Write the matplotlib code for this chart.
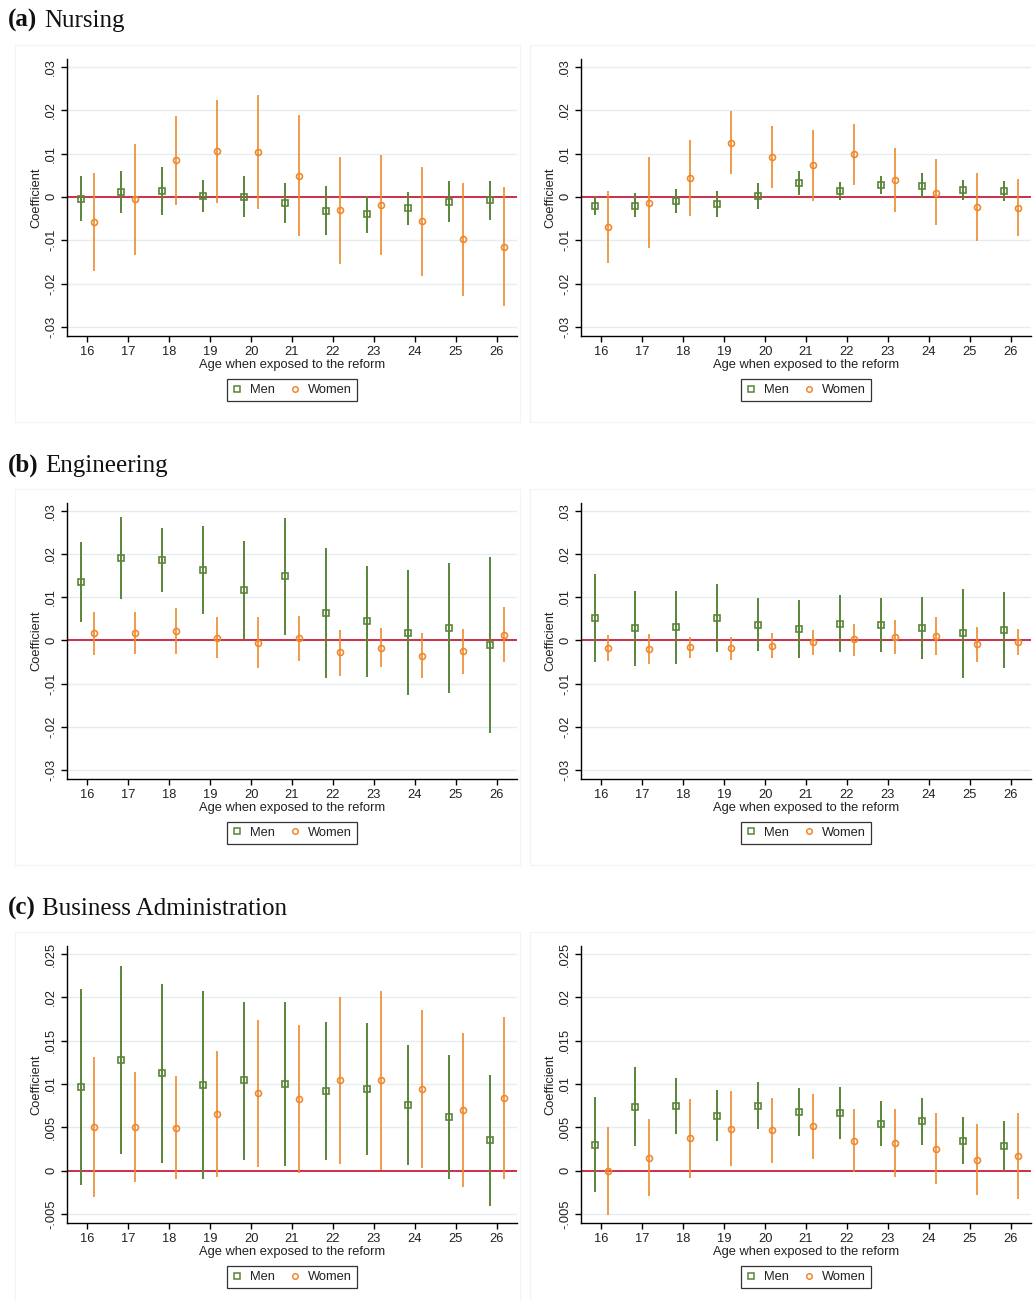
import numpy as np
import matplotlib
matplotlib.use('Agg')
import matplotlib.pyplot as plt
from matplotlib.patches import Rectangle
from matplotlib.lines import Line2D

plt.rcParams['font.family'] = ['Liberation Sans', 'DejaVu Sans']
plt.rcParams['axes.linewidth'] = 1.0

ages = np.arange(16, 27)

# ---- (a) Nursing, left
nurs1_men_b = [-0.0005, 0.0012, 0.0014, 0.0002, 0.0000, -0.0014, -0.0032, -0.0040, -0.0026, -0.0012, -0.0008]
nurs1_men_hi = [0.0047, 0.0059, 0.0068, 0.0038, 0.0047, 0.0032, 0.0024, 0.0003, 0.0012, 0.0036, 0.0037]
nurs1_men_lo = [-0.0056, -0.0038, -0.0042, -0.0035, -0.0046, -0.0061, -0.0089, -0.0083, -0.0064, -0.0059, -0.0053]
nurs1_wom_b = [-0.0058, -0.0006, 0.0085, 0.0105, 0.0104, 0.0049, -0.0031, -0.0018, -0.0056, -0.0098, -0.0115]
nurs1_wom_hi = [0.0054, 0.0121, 0.0187, 0.0224, 0.0236, 0.0188, 0.0093, 0.0097, 0.0068, 0.0032, 0.0022]
nurs1_wom_lo = [-0.0172, -0.0135, -0.0018, -0.0014, -0.0029, -0.0090, -0.0155, -0.0135, -0.0182, -0.0228, -0.0251]

# ---- (a) Nursing, right
nurs2_men_b = [-0.0020, -0.0020, -0.0010, -0.0017, 0.0002, 0.0032, 0.0014, 0.0027, 0.0026, 0.0016, 0.0014]
nurs2_men_hi = [0.0000, 0.0008, 0.0018, 0.0013, 0.0032, 0.0059, 0.0035, 0.0048, 0.0056, 0.0039, 0.0037]
nurs2_men_lo = [-0.0042, -0.0047, -0.0038, -0.0047, -0.0028, 0.0004, -0.0008, 0.0006, -0.0003, -0.0008, -0.0009]
nurs2_wom_b = [-0.0069, -0.0014, 0.0044, 0.0125, 0.0092, 0.0073, 0.0098, 0.0040, 0.0010, -0.0023, -0.0025]
nurs2_wom_hi = [0.0014, 0.0091, 0.0132, 0.0198, 0.0164, 0.0155, 0.0169, 0.0112, 0.0087, 0.0054, 0.0042]
nurs2_wom_lo = [-0.0153, -0.0119, -0.0045, 0.0052, 0.0021, -0.0009, 0.0027, -0.0034, -0.0066, -0.0101, -0.0091]

# ---- (b) Engineering, left
eng1_men_b = [0.0135, 0.0191, 0.0187, 0.0163, 0.0117, 0.0148, 0.0063, 0.0045, 0.0018, 0.0029, -0.0011]
eng1_men_hi = [0.0228, 0.0285, 0.0261, 0.0264, 0.0231, 0.0284, 0.0214, 0.0173, 0.0163, 0.0178, 0.0193]
eng1_men_lo = [0.0042, 0.0096, 0.0112, 0.0062, 0.0002, 0.0012, -0.0088, -0.0084, -0.0127, -0.0121, -0.0215]
eng1_wom_b = [0.0016, 0.0017, 0.0022, 0.0006, -0.0005, 0.0005, -0.0028, -0.0017, -0.0036, -0.0025, 0.0013]
eng1_wom_hi = [0.0066, 0.0065, 0.0076, 0.0053, 0.0053, 0.0057, 0.0025, 0.0028, 0.0016, 0.0026, 0.0077]
eng1_wom_lo = [-0.0035, -0.0031, -0.0032, -0.0042, -0.0065, -0.0048, -0.0082, -0.0062, -0.0088, -0.0078, -0.0051]

# ---- (b) Engineering, right
eng2_men_b = [0.0052, 0.0028, 0.0031, 0.0052, 0.0036, 0.0027, 0.0038, 0.0035, 0.0028, 0.0016, 0.0024]
eng2_men_hi = [0.0154, 0.0115, 0.0115, 0.0131, 0.0098, 0.0093, 0.0104, 0.0097, 0.0100, 0.0118, 0.0112]
eng2_men_lo = [-0.0051, -0.0059, -0.0055, -0.0028, -0.0025, -0.0041, -0.0027, -0.0027, -0.0044, -0.0087, -0.0065]
eng2_wom_b = [-0.0018, -0.0020, -0.0016, -0.0018, -0.0012, -0.0003, 0.0002, 0.0008, 0.0011, -0.0008, -0.0004]
eng2_wom_hi = [0.0012, 0.0014, 0.0007, 0.0008, 0.0016, 0.0025, 0.0039, 0.0048, 0.0055, 0.0032, 0.0026]
eng2_wom_lo = [-0.0048, -0.0054, -0.0041, -0.0045, -0.0042, -0.0034, -0.0037, -0.0032, -0.0034, -0.0049, -0.0035]

# ---- (c) Business Administration, left
bus1_men_b = [0.00969, 0.01277, 0.01123, 0.00988, 0.01042, 0.01004, 0.00923, 0.00942, 0.00758, 0.00623, 0.00354]
bus1_men_hi = [0.0210, 0.0236, 0.0215, 0.0207, 0.0195, 0.0195, 0.01715, 0.0170, 0.01454, 0.01338, 0.01104]
bus1_men_lo = [-0.00165, 0.00188, 0.00085, -0.0010, 0.00127, 0.00058, 0.00127, 0.00185, 0.00062, -0.00092, -0.00404]
bus1_wom_b = [0.00508, 0.00504, 0.00496, 0.00658, 0.00896, 0.00823, 0.01042, 0.01042, 0.00942, 0.0070, 0.00842]
bus1_wom_hi = [0.01315, 0.01138, 0.01088, 0.01385, 0.01742, 0.01677, 0.02008, 0.0207, 0.0185, 0.01588, 0.01773]
bus1_wom_lo = [-0.00304, -0.00131, -0.00096, -0.00073, 0.00046, -0.00031, 0.00077, 0.00012, 0.00031, -0.00188, -0.00092]

# ---- (c) Business Administration, right
bus2_men_b = [0.00301, 0.00737, 0.00749, 0.00633, 0.00749, 0.00676, 0.00664, 0.00544, 0.00568, 0.00347, 0.00286]
bus2_men_hi = [0.00846, 0.01193, 0.01073, 0.00927, 0.01019, 0.0095, 0.00961, 0.00807, 0.00834, 0.00614, 0.00575]
bus2_men_lo = [-0.00243, 0.00282, 0.00421, 0.00344, 0.00475, 0.00402, 0.00367, 0.00282, 0.00301, 0.00081, -0.00008]
bus2_wom_b = [-0.00008, 0.00151, 0.00371, 0.00486, 0.00471, 0.0051, 0.00347, 0.00317, 0.00255, 0.0012, 0.0017]
bus2_wom_hi = [0.00498, 0.00598, 0.00826, 0.00915, 0.00842, 0.00884, 0.0071, 0.00707, 0.0066, 0.00533, 0.00664]
bus2_wom_lo = [-0.00517, -0.00297, -0.00089, 0.00058, 0.00093, 0.00135, -0.00019, -0.00073, -0.00151, -0.00286, -0.00332]

ticks_a = [-0.03, -0.02, -0.01, 0, 0.01, 0.02, 0.03]
labels_a = ['-.03', '-.02', '-.01', '0', '.01', '.02', '.03']
ticks_c = [-0.005, 0, 0.005, 0.01, 0.015, 0.02, 0.025]
labels_c = ['-.005', '0', '.005', '.01', '.015', '.02', '.025']

titles = [('(a)', 'Nursing'), ('(b)', 'Engineering'), ('(c)', 'Business Administration')]

W, H = 1035, 1301
fig = plt.figure(figsize=(W / 100, H / 100), dpi=100)

green = '#5a8538'
orange = '#ee8a2c'
zero_red = '#cc3048'
grid_c = '#e4eef0'
frame_c = '#f2f5f6'
fs = 9.3


def px_axes(x0, x1, top, bottom):
    return fig.add_axes([x0 / W, 1 - bottom / H, (x1 - x0) / W, (bottom - top) / H])


def panel(ax, men, wom, yticks, ylabels, ylim):
    off = 0.17
    for yv in yticks:
        ax.axhline(yv, color=grid_c, lw=1.0, zorder=0)
    ax.axhline(0, color=zero_red, lw=1.4, zorder=1)
    ax.vlines(ages - off, men[2], men[1], color=green, lw=1.4, zorder=2)
    ax.plot(ages - off, men[0], 's', ms=4.4, mfc='none', mec=green, mew=1.2, zorder=3)
    ax.vlines(ages + off, wom[2], wom[1], color=orange, lw=1.2, zorder=2)
    ax.plot(ages + off, wom[0], 'o', ms=4.3, mfc='none', mec=orange, mew=1.2, zorder=3)
    ax.set_xlim(15.5, 26.5)
    ax.set_ylim(*ylim)
    ax.set_xticks(ages)
    ax.set_xticklabels([str(a) for a in ages], fontsize=fs, color='#222222')
    ax.set_yticks(yticks)
    ax.set_yticklabels(ylabels, fontsize=fs, color='#222222')
    for lbl in ax.get_yticklabels():
        lbl.set_rotation(90)
        lbl.set_va('center')
        lbl.set_ha('right')
    ax.tick_params(axis='both', direction='out', length=4, width=1, pad=3)
    for s in ['top', 'right']:
        ax.spines[s].set_visible(False)
    ax.set_xlabel('Age when exposed to the reform', fontsize=fs, color='#222222', labelpad=1)
    ax.set_ylabel('Coefficient', fontsize=fs, color='#222222')
    ax.yaxis.set_label_coords(-0.055, 0.5)
    h1 = Line2D([], [], ls='none', marker='s', ms=4.4, mfc='none', mec=green, mew=1.1)
    h2 = Line2D([], [], ls='none', marker='o', ms=4.0, mfc='none', mec=orange, mew=1.1)
    leg = ax.legend([h1, h2], ['Men', 'Women'], loc='center', bbox_to_anchor=(0.5, -0.195),
                    ncol=2, fontsize=fs, frameon=True, fancybox=False, handlelength=0.8,
                    handletextpad=0.6, columnspacing=1.2, borderpad=0.4)
    leg.get_frame().set_edgecolor('black')
    leg.get_frame().set_linewidth(0.9)
    for t in leg.get_texts():
        t.set_color('#222222')


data = [
    ((nurs1_men_b, nurs1_men_hi, nurs1_men_lo), (nurs1_wom_b, nurs1_wom_hi, nurs1_wom_lo),
     (nurs2_men_b, nurs2_men_hi, nurs2_men_lo), (nurs2_wom_b, nurs2_wom_hi, nurs2_wom_lo)),
    ((eng1_men_b, eng1_men_hi, eng1_men_lo), (eng1_wom_b, eng1_wom_hi, eng1_wom_lo),
     (eng2_men_b, eng2_men_hi, eng2_men_lo), (eng2_wom_b, eng2_wom_hi, eng2_wom_lo)),
    ((bus1_men_b, bus1_men_hi, bus1_men_lo), (bus1_wom_b, bus1_wom_hi, bus1_wom_lo),
     (bus2_men_b, bus2_men_hi, bus2_men_lo), (bus2_wom_b, bus2_wom_hi, bus2_wom_lo)),
]

rows = [(59, 336), (503, 779), (946, 1223)]
cols = [(67, 517), (581, 1031)]
title_base = [27, 472, 915]
ylims = [(-0.0321, 0.0318), (-0.0321, 0.0318), (-0.00604, 0.02592)]
ytk = [(ticks_a, labels_a), (ticks_a, labels_a), (ticks_c, labels_c)]

renderer = fig.canvas.get_renderer()
for r, (top, bot) in enumerate(rows):
    # faint panel frames
    for fx0, fx1 in [(15, 520), (530, 1040)]:
        fig.patches.append(Rectangle((fx0 / W, 1 - (bot + 86) / H), (fx1 - fx0) / W, (bot - top + 100) / H,
                                     transform=fig.transFigure, fill=False, edgecolor=frame_c, lw=1.0, zorder=0))
    for c, (x0, x1) in enumerate(cols):
        ax = px_axes(x0, x1, top, bot)
        men = [np.array(v) for v in data[r][2 * c]]
        wom = [np.array(v) for v in data[r][2 * c + 1]]
        panel(ax, men, wom, ytk[r][0], ytk[r][1], ylims[r])
    t1 = fig.text(8 / W, 1 - title_base[r] / H, titles[r][0], fontsize=18, fontweight='bold',
                  family='Liberation Serif', va='baseline', ha='left', color='#111111')
    bb = t1.get_window_extent(renderer)
    fig.text((bb.x1 + 6.5) / W, 1 - title_base[r] / H, titles[r][1], fontsize=18,
             family='Liberation Serif', va='baseline', ha='left', color='#111111')

fig.savefig('out.png', dpi=100)
